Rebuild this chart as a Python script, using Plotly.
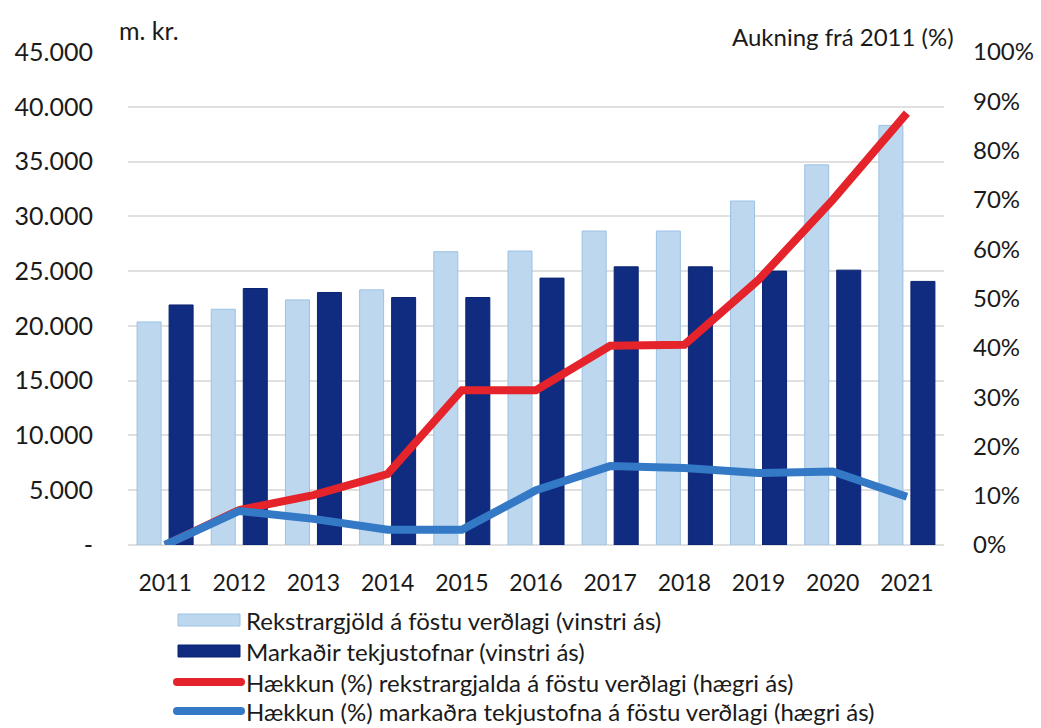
import plotly.graph_objects as go

years = ["2011", "2012", "2013", "2014", "2015", "2016", "2017", "2018", "2019", "2020", "2021"]
rekstrargjold = [20360, 21520, 22370, 23290, 26770, 26830, 28660, 28660, 31400, 34700, 38300]
markadir = [21910, 23410, 23050, 22590, 22590, 24360, 25390, 25390, 25000, 25090, 24060]
haekkun_rekstur = [0, 7.1, 10.1, 14.4, 31.4, 31.4, 40.4, 40.6, 53.8, 70.0, 87.6]
haekkun_markadir = [0, 6.9, 5.3, 3.1, 3.1, 11.1, 16.0, 15.6, 14.6, 14.9, 9.8]

left_ticks = [0, 5000, 10000, 15000, 20000, 25000, 30000, 35000, 40000, 45000]
left_text = ["-", "5.000", "10.000", "15.000", "20.000", "25.000", "30.000", "35.000", "40.000", "45.000"]
right_ticks = [0, 10, 20, 30, 40, 50, 60, 70, 80, 90, 100]
right_text = ["0%", "10%", "20%", "30%", "40%", "50%", "60%", "70%", "80%", "90%", "100%"]

names = [
    "Rekstrargjöld á föstu verðlagi (vinstri ás)",
    "Markaðir tekjustofnar (vinstri ás)",
    "Hækkun (%) rekstrargjalda á föstu verðlagi (hægri ás)",
    "Hækkun (%) markaðra tekjustofna á föstu verðlagi (hægri ás)",
]
colors = ["#BDD7EE", "#0F2C80", "#E5232B", "#3479C6"]

FONT = "Lato"
TXT = "#1a1a1a"
W, H = 1041, 728
L, R, T, B = 128, 97, 52, 183
PW, PH = W - L - R, H - T - B


def px_x(px):
    return (px - L) / PW


def px_y(py):
    return (H - B - py) / PH


fig = go.Figure()
fig.add_trace(go.Bar(
    x=years, y=rekstrargjold, name=names[0],
    marker=dict(color=colors[0], line=dict(color="#9CC2E5", width=1)),
))
fig.add_trace(go.Bar(
    x=years, y=markadir, name=names[1],
    marker=dict(color=colors[1], line=dict(color="#0A2270", width=1)),
))
fig.add_trace(go.Scatter(
    x=years, y=haekkun_rekstur, name=names[2],
    mode="lines", line=dict(color=colors[2], width=8), yaxis="y2",
))
fig.add_trace(go.Scatter(
    x=years, y=haekkun_markadir, name=names[3],
    mode="lines", line=dict(color=colors[3], width=8), yaxis="y2",
))

# custom legend (wide symbols like the original)
shapes = []
annotations = []
row_y = [620, 651, 682, 711]
for i, (nm, col) in enumerate(zip(names, colors)):
    yc = row_y[i]
    if i < 2:
        shapes.append(dict(type="rect", xref="paper", yref="paper",
                           x0=px_x(178), x1=px_x(240), y0=px_y(yc - 6), y1=px_y(yc + 6),
                           fillcolor=col, line=dict(width=1, color="#9CC2E5" if i == 0 else "#0A2270")))
    else:
        shapes.append(dict(type="line", xref="paper", yref="paper",
                           x0=px_x(177), x1=px_x(241), y0=px_y(yc), y1=px_y(yc),
                           line=dict(color=col, width=8)))
        for cx in (177, 241):
            shapes.append(dict(type="circle", xref="paper", yref="paper",
                               x0=px_x(cx - 4), x1=px_x(cx + 4), y0=px_y(yc - 4), y1=px_y(yc + 4),
                               fillcolor=col, line=dict(width=0)))
    annotations.append(dict(text=nm, x=px_x(244), y=px_y(yc), xref="paper", yref="paper",
                            xanchor="left", yanchor="middle", showarrow=False,
                            font=dict(size=24, family=FONT, color=TXT)))

annotations.append(dict(text="m. kr.", x=px_x(117), y=px_y(30), xref="paper", yref="paper",
                        xanchor="left", yanchor="middle", showarrow=False,
                        font=dict(size=25, family=FONT, color=TXT)))
annotations.append(dict(text="Aukning frá 2011 (%)", x=px_x(956), y=px_y(36), xref="paper",
                        yref="paper", xanchor="right", yanchor="middle", showarrow=False,
                        font=dict(size=24, family=FONT, color=TXT)))

fig.update_layout(
    width=W, height=H,
    margin=dict(l=L, r=R, t=T, b=B),
    paper_bgcolor="white", plot_bgcolor="white",
    font=dict(family=FONT, color=TXT),
    barmode="group", bargap=0.137, bargroupgap=0.25,
    showlegend=False,
    xaxis=dict(
        type="category", tickfont=dict(size=23, family=FONT, color=TXT), showgrid=False,
        showline=False, ticks="", ticklabelstandoff=22, automargin=False,
    ),
    yaxis=dict(
        range=[0, 45000], tickvals=left_ticks, ticktext=left_text,
        tickfont=dict(size=25, family=FONT, color=TXT), showgrid=True, gridcolor="#E0E0E0",
        gridwidth=2, zeroline=True, zerolinecolor="#E0E0E0", zerolinewidth=2,
        ticklabelstandoff=34, showline=False, automargin=False,
    ),
    yaxis2=dict(
        range=[0, 100], tickvals=right_ticks, ticktext=right_text, overlaying="y", side="right",
        tickfont=dict(size=24, family=FONT, color=TXT), showgrid=False, zeroline=False,
        ticklabelstandoff=28, showline=False, automargin=False,
    ),
    shapes=shapes,
    annotations=annotations,
)

fig.write_html(
    "out.html",
    config={"displayModeBar": False},
    post_script="document.body.style.margin='0';document.body.style.overflow='hidden';",
)
